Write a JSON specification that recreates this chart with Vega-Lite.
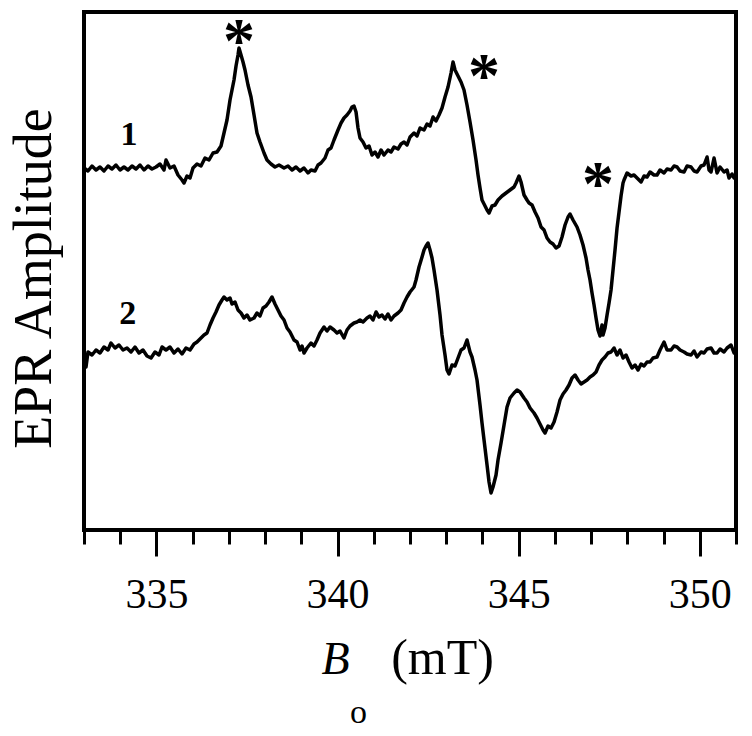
{
"$schema": "https://vega.github.io/schema/vega-lite/v6.json",
"width": 652, "height": 518,
"autosize": {"type": "none"},
"padding": {"left": 84, "top": 12, "right": 16, "bottom": 206},
"background": "white",
"config": {"view": {"stroke": "black", "strokeWidth": 4}, "font": "Liberation Serif"},
"datasets": {
"traces": [
{"trace":"1","B":333.000,"amp":3.62},{"trace":"1","B":333.110,"amp":3.59},{"trace":"1","B":333.221,"amp":3.64},{"trace":"1","B":333.331,"amp":3.60},{"trace":"1","B":333.442,"amp":3.63},{"trace":"1","B":333.552,"amp":3.59},{"trace":"1","B":333.663,"amp":3.64},{"trace":"1","B":333.773,"amp":3.61},{"trace":"1","B":333.883,"amp":3.65},{"trace":"1","B":333.994,"amp":3.60},{"trace":"1","B":334.104,"amp":3.63},{"trace":"1","B":334.215,"amp":3.60},{"trace":"1","B":334.325,"amp":3.64},{"trace":"1","B":334.436,"amp":3.61},{"trace":"1","B":334.546,"amp":3.65},{"trace":"1","B":334.657,"amp":3.60},{"trace":"1","B":334.767,"amp":3.64},{"trace":"1","B":334.877,"amp":3.61},{"trace":"1","B":334.988,"amp":3.63},{"trace":"1","B":335.098,"amp":3.66},{"trace":"1","B":335.209,"amp":3.60},{"trace":"1","B":335.264,"amp":3.70},{"trace":"1","B":335.374,"amp":3.62},{"trace":"1","B":335.485,"amp":3.64},{"trace":"1","B":335.595,"amp":3.55},{"trace":"1","B":335.706,"amp":3.50},{"trace":"1","B":335.761,"amp":3.47},{"trace":"1","B":335.844,"amp":3.54},{"trace":"1","B":335.927,"amp":3.52},{"trace":"1","B":336.009,"amp":3.62},{"trace":"1","B":336.120,"amp":3.66},{"trace":"1","B":336.230,"amp":3.64},{"trace":"1","B":336.341,"amp":3.72},{"trace":"1","B":336.451,"amp":3.70},{"trace":"1","B":336.562,"amp":3.77},{"trace":"1","B":336.672,"amp":3.78},{"trace":"1","B":336.782,"amp":3.84},{"trace":"1","B":336.865,"amp":3.97},{"trace":"1","B":336.948,"amp":4.10},{"trace":"1","B":337.031,"amp":4.30},{"trace":"1","B":337.086,"amp":4.40},{"trace":"1","B":337.141,"amp":4.50},{"trace":"1","B":337.197,"amp":4.64},{"trace":"1","B":337.252,"amp":4.75},{"trace":"1","B":337.279,"amp":4.82},{"trace":"1","B":337.335,"amp":4.75},{"trace":"1","B":337.390,"amp":4.68},{"trace":"1","B":337.445,"amp":4.60},{"trace":"1","B":337.528,"amp":4.45},{"trace":"1","B":337.611,"amp":4.33},{"trace":"1","B":337.694,"amp":4.15},{"trace":"1","B":337.776,"amp":3.97},{"trace":"1","B":337.859,"amp":3.88},{"trace":"1","B":337.970,"amp":3.77},{"trace":"1","B":338.052,"amp":3.70},{"trace":"1","B":338.163,"amp":3.66},{"trace":"1","B":338.273,"amp":3.63},{"trace":"1","B":338.384,"amp":3.65},{"trace":"1","B":338.522,"amp":3.62},{"trace":"1","B":338.632,"amp":3.64},{"trace":"1","B":338.743,"amp":3.60},{"trace":"1","B":338.853,"amp":3.63},{"trace":"1","B":338.964,"amp":3.59},{"trace":"1","B":339.074,"amp":3.62},{"trace":"1","B":339.184,"amp":3.57},{"trace":"1","B":339.267,"amp":3.60},{"trace":"1","B":339.378,"amp":3.59},{"trace":"1","B":339.461,"amp":3.65},{"trace":"1","B":339.543,"amp":3.67},{"trace":"1","B":339.654,"amp":3.72},{"trace":"1","B":339.737,"amp":3.80},{"trace":"1","B":339.819,"amp":3.82},{"trace":"1","B":339.902,"amp":3.90},{"trace":"1","B":340.013,"amp":4.00},{"trace":"1","B":340.096,"amp":4.07},{"trace":"1","B":340.178,"amp":4.12},{"trace":"1","B":340.261,"amp":4.15},{"trace":"1","B":340.344,"amp":4.19},{"trace":"1","B":340.399,"amp":4.23},{"trace":"1","B":340.454,"amp":4.24},{"trace":"1","B":340.510,"amp":4.18},{"trace":"1","B":340.565,"amp":4.02},{"trace":"1","B":340.620,"amp":3.92},{"trace":"1","B":340.703,"amp":3.88},{"trace":"1","B":340.786,"amp":3.82},{"trace":"1","B":340.869,"amp":3.84},{"trace":"1","B":340.951,"amp":3.75},{"trace":"1","B":341.034,"amp":3.78},{"trace":"1","B":341.117,"amp":3.73},{"trace":"1","B":341.200,"amp":3.80},{"trace":"1","B":341.283,"amp":3.75},{"trace":"1","B":341.393,"amp":3.80},{"trace":"1","B":341.476,"amp":3.78},{"trace":"1","B":341.559,"amp":3.83},{"trace":"1","B":341.669,"amp":3.81},{"trace":"1","B":341.752,"amp":3.86},{"trace":"1","B":341.835,"amp":3.88},{"trace":"1","B":341.918,"amp":3.85},{"trace":"1","B":342.001,"amp":3.93},{"trace":"1","B":342.111,"amp":3.97},{"trace":"1","B":342.194,"amp":3.94},{"trace":"1","B":342.277,"amp":4.02},{"trace":"1","B":342.387,"amp":4.00},{"trace":"1","B":342.470,"amp":4.06},{"trace":"1","B":342.553,"amp":4.04},{"trace":"1","B":342.636,"amp":4.13},{"trace":"1","B":342.718,"amp":4.09},{"trace":"1","B":342.801,"amp":4.15},{"trace":"1","B":342.884,"amp":4.22},{"trace":"1","B":342.967,"amp":4.33},{"trace":"1","B":343.050,"amp":4.43},{"trace":"1","B":343.133,"amp":4.57},{"trace":"1","B":343.188,"amp":4.68},{"trace":"1","B":343.243,"amp":4.60},{"trace":"1","B":343.326,"amp":4.54},{"trace":"1","B":343.409,"amp":4.48},{"trace":"1","B":343.491,"amp":4.40},{"trace":"1","B":343.574,"amp":4.25},{"trace":"1","B":343.657,"amp":4.08},{"trace":"1","B":343.740,"amp":3.90},{"trace":"1","B":343.823,"amp":3.70},{"trace":"1","B":343.878,"amp":3.55},{"trace":"1","B":343.933,"amp":3.42},{"trace":"1","B":343.988,"amp":3.30},{"trace":"1","B":344.044,"amp":3.26},{"trace":"1","B":344.127,"amp":3.20},{"trace":"1","B":344.182,"amp":3.17},{"trace":"1","B":344.265,"amp":3.24},{"trace":"1","B":344.347,"amp":3.25},{"trace":"1","B":344.430,"amp":3.30},{"trace":"1","B":344.541,"amp":3.34},{"trace":"1","B":344.651,"amp":3.37},{"trace":"1","B":344.761,"amp":3.40},{"trace":"1","B":344.872,"amp":3.43},{"trace":"1","B":344.927,"amp":3.47},{"trace":"1","B":345.010,"amp":3.54},{"trace":"1","B":345.065,"amp":3.48},{"trace":"1","B":345.148,"amp":3.35},{"trace":"1","B":345.231,"amp":3.30},{"trace":"1","B":345.286,"amp":3.27},{"trace":"1","B":345.369,"amp":3.25},{"trace":"1","B":345.452,"amp":3.18},{"trace":"1","B":345.535,"amp":3.12},{"trace":"1","B":345.618,"amp":3.03},{"trace":"1","B":345.701,"amp":3.00},{"trace":"1","B":345.783,"amp":2.92},{"trace":"1","B":345.866,"amp":2.88},{"trace":"1","B":345.949,"amp":2.86},{"trace":"1","B":346.032,"amp":2.82},{"trace":"1","B":346.115,"amp":2.84},{"trace":"1","B":346.197,"amp":2.93},{"trace":"1","B":346.280,"amp":3.05},{"trace":"1","B":346.363,"amp":3.13},{"trace":"1","B":346.418,"amp":3.16},{"trace":"1","B":346.501,"amp":3.10},{"trace":"1","B":346.611,"amp":3.03},{"trace":"1","B":346.694,"amp":2.95},{"trace":"1","B":346.777,"amp":2.85},{"trace":"1","B":346.860,"amp":2.72},{"trace":"1","B":346.915,"amp":2.60},{"trace":"1","B":346.970,"amp":2.50},{"trace":"1","B":347.025,"amp":2.37},{"trace":"1","B":347.081,"amp":2.25},{"trace":"1","B":347.136,"amp":2.12},{"trace":"1","B":347.191,"amp":2.00},{"trace":"1","B":347.246,"amp":1.94},{"trace":"1","B":347.301,"amp":2.05},{"trace":"1","B":347.329,"amp":1.95},{"trace":"1","B":347.384,"amp":2.02},{"trace":"1","B":347.440,"amp":2.15},{"trace":"1","B":347.495,"amp":2.27},{"trace":"1","B":347.550,"amp":2.40},{"trace":"1","B":347.605,"amp":2.60},{"trace":"1","B":347.660,"amp":2.80},{"trace":"1","B":347.716,"amp":3.02},{"trace":"1","B":347.771,"amp":3.18},{"trace":"1","B":347.826,"amp":3.34},{"trace":"1","B":347.881,"amp":3.47},{"trace":"1","B":347.909,"amp":3.50},{"trace":"1","B":347.992,"amp":3.57},{"trace":"1","B":348.102,"amp":3.54},{"trace":"1","B":348.185,"amp":3.55},{"trace":"1","B":348.268,"amp":3.52},{"trace":"1","B":348.379,"amp":3.48},{"trace":"1","B":348.461,"amp":3.54},{"trace":"1","B":348.544,"amp":3.53},{"trace":"1","B":348.627,"amp":3.58},{"trace":"1","B":348.737,"amp":3.55},{"trace":"1","B":348.820,"amp":3.55},{"trace":"1","B":348.903,"amp":3.60},{"trace":"1","B":349.014,"amp":3.57},{"trace":"1","B":349.096,"amp":3.61},{"trace":"1","B":349.207,"amp":3.60},{"trace":"1","B":349.290,"amp":3.64},{"trace":"1","B":349.373,"amp":3.63},{"trace":"1","B":349.455,"amp":3.59},{"trace":"1","B":349.566,"amp":3.58},{"trace":"1","B":349.649,"amp":3.64},{"trace":"1","B":349.759,"amp":3.63},{"trace":"1","B":349.842,"amp":3.59},{"trace":"1","B":349.925,"amp":3.58},{"trace":"1","B":350.035,"amp":3.64},{"trace":"1","B":350.118,"amp":3.65},{"trace":"1","B":350.201,"amp":3.73},{"trace":"1","B":350.256,"amp":3.60},{"trace":"1","B":350.311,"amp":3.58},{"trace":"1","B":350.394,"amp":3.72},{"trace":"1","B":350.477,"amp":3.57},{"trace":"1","B":350.560,"amp":3.63},{"trace":"1","B":350.670,"amp":3.58},{"trace":"1","B":350.753,"amp":3.60},{"trace":"1","B":350.808,"amp":3.52},{"trace":"1","B":350.891,"amp":3.56},{"trace":"1","B":350.946,"amp":3.52},{"trace":"1","B":351.000,"amp":3.54},
{"trace":"2","B":333.000,"amp":1.73},{"trace":"2","B":333.055,"amp":1.63},{"trace":"2","B":333.110,"amp":1.78},{"trace":"2","B":333.221,"amp":1.75},{"trace":"2","B":333.331,"amp":1.80},{"trace":"2","B":333.442,"amp":1.77},{"trace":"2","B":333.552,"amp":1.83},{"trace":"2","B":333.663,"amp":1.80},{"trace":"2","B":333.745,"amp":1.87},{"trace":"2","B":333.856,"amp":1.82},{"trace":"2","B":333.966,"amp":1.85},{"trace":"2","B":334.077,"amp":1.80},{"trace":"2","B":334.187,"amp":1.82},{"trace":"2","B":334.298,"amp":1.78},{"trace":"2","B":334.408,"amp":1.83},{"trace":"2","B":334.518,"amp":1.77},{"trace":"2","B":334.629,"amp":1.80},{"trace":"2","B":334.739,"amp":1.74},{"trace":"2","B":334.850,"amp":1.72},{"trace":"2","B":334.960,"amp":1.78},{"trace":"2","B":335.071,"amp":1.75},{"trace":"2","B":335.154,"amp":1.83},{"trace":"2","B":335.264,"amp":1.80},{"trace":"2","B":335.374,"amp":1.83},{"trace":"2","B":335.485,"amp":1.77},{"trace":"2","B":335.595,"amp":1.81},{"trace":"2","B":335.706,"amp":1.76},{"trace":"2","B":335.816,"amp":1.82},{"trace":"2","B":335.927,"amp":1.80},{"trace":"2","B":336.037,"amp":1.86},{"trace":"2","B":336.120,"amp":1.88},{"trace":"2","B":336.230,"amp":1.92},{"trace":"2","B":336.313,"amp":1.95},{"trace":"2","B":336.396,"amp":1.97},{"trace":"2","B":336.479,"amp":2.05},{"trace":"2","B":336.562,"amp":2.12},{"trace":"2","B":336.644,"amp":2.18},{"trace":"2","B":336.727,"amp":2.25},{"trace":"2","B":336.810,"amp":2.30},{"trace":"2","B":336.865,"amp":2.33},{"trace":"2","B":336.948,"amp":2.30},{"trace":"2","B":337.031,"amp":2.32},{"trace":"2","B":337.086,"amp":2.26},{"trace":"2","B":337.169,"amp":2.28},{"trace":"2","B":337.252,"amp":2.20},{"trace":"2","B":337.335,"amp":2.17},{"trace":"2","B":337.417,"amp":2.12},{"trace":"2","B":337.500,"amp":2.15},{"trace":"2","B":337.583,"amp":2.10},{"trace":"2","B":337.694,"amp":2.12},{"trace":"2","B":337.776,"amp":2.17},{"trace":"2","B":337.859,"amp":2.14},{"trace":"2","B":337.942,"amp":2.22},{"trace":"2","B":338.025,"amp":2.24},{"trace":"2","B":338.108,"amp":2.28},{"trace":"2","B":338.190,"amp":2.33},{"trace":"2","B":338.273,"amp":2.26},{"trace":"2","B":338.356,"amp":2.20},{"trace":"2","B":338.439,"amp":2.14},{"trace":"2","B":338.522,"amp":2.10},{"trace":"2","B":338.605,"amp":2.02},{"trace":"2","B":338.687,"amp":1.98},{"trace":"2","B":338.798,"amp":1.90},{"trace":"2","B":338.881,"amp":1.88},{"trace":"2","B":338.964,"amp":1.80},{"trace":"2","B":339.019,"amp":1.84},{"trace":"2","B":339.074,"amp":1.77},{"trace":"2","B":339.157,"amp":1.82},{"trace":"2","B":339.267,"amp":1.87},{"trace":"2","B":339.350,"amp":1.84},{"trace":"2","B":339.433,"amp":1.90},{"trace":"2","B":339.516,"amp":1.97},{"trace":"2","B":339.626,"amp":2.03},{"trace":"2","B":339.709,"amp":1.99},{"trace":"2","B":339.792,"amp":2.03},{"trace":"2","B":339.902,"amp":2.00},{"trace":"2","B":339.985,"amp":1.97},{"trace":"2","B":340.068,"amp":1.99},{"trace":"2","B":340.178,"amp":1.92},{"trace":"2","B":340.261,"amp":2.00},{"trace":"2","B":340.344,"amp":2.04},{"trace":"2","B":340.454,"amp":2.07},{"trace":"2","B":340.537,"amp":2.08},{"trace":"2","B":340.620,"amp":2.10},{"trace":"2","B":340.703,"amp":2.08},{"trace":"2","B":340.813,"amp":2.12},{"trace":"2","B":340.896,"amp":2.14},{"trace":"2","B":340.979,"amp":2.10},{"trace":"2","B":341.062,"amp":2.18},{"trace":"2","B":341.145,"amp":2.13},{"trace":"2","B":341.227,"amp":2.15},{"trace":"2","B":341.310,"amp":2.11},{"trace":"2","B":341.393,"amp":2.16},{"trace":"2","B":341.476,"amp":2.10},{"trace":"2","B":341.559,"amp":2.14},{"trace":"2","B":341.669,"amp":2.17},{"trace":"2","B":341.752,"amp":2.20},{"trace":"2","B":341.835,"amp":2.27},{"trace":"2","B":341.918,"amp":2.33},{"trace":"2","B":342.001,"amp":2.38},{"trace":"2","B":342.111,"amp":2.43},{"trace":"2","B":342.166,"amp":2.50},{"trace":"2","B":342.249,"amp":2.63},{"trace":"2","B":342.332,"amp":2.73},{"trace":"2","B":342.387,"amp":2.80},{"trace":"2","B":342.442,"amp":2.84},{"trace":"2","B":342.497,"amp":2.87},{"trace":"2","B":342.553,"amp":2.80},{"trace":"2","B":342.608,"amp":2.72},{"trace":"2","B":342.663,"amp":2.60},{"trace":"2","B":342.746,"amp":2.40},{"trace":"2","B":342.829,"amp":2.15},{"trace":"2","B":342.884,"amp":1.95},{"trace":"2","B":342.967,"amp":1.75},{"trace":"2","B":343.022,"amp":1.60},{"trace":"2","B":343.077,"amp":1.56},{"trace":"2","B":343.160,"amp":1.65},{"trace":"2","B":343.243,"amp":1.64},{"trace":"2","B":343.326,"amp":1.72},{"trace":"2","B":343.409,"amp":1.80},{"trace":"2","B":343.491,"amp":1.82},{"trace":"2","B":343.574,"amp":1.90},{"trace":"2","B":343.657,"amp":1.78},{"trace":"2","B":343.712,"amp":1.73},{"trace":"2","B":343.795,"amp":1.60},{"trace":"2","B":343.850,"amp":1.50},{"trace":"2","B":343.933,"amp":1.25},{"trace":"2","B":343.988,"amp":1.07},{"trace":"2","B":344.044,"amp":0.90},{"trace":"2","B":344.127,"amp":0.65},{"trace":"2","B":344.182,"amp":0.48},{"trace":"2","B":344.237,"amp":0.37},{"trace":"2","B":344.292,"amp":0.43},{"trace":"2","B":344.375,"amp":0.55},{"trace":"2","B":344.430,"amp":0.70},{"trace":"2","B":344.513,"amp":0.87},{"trace":"2","B":344.596,"amp":1.05},{"trace":"2","B":344.679,"amp":1.23},{"trace":"2","B":344.761,"amp":1.32},{"trace":"2","B":344.872,"amp":1.37},{"trace":"2","B":344.955,"amp":1.40},{"trace":"2","B":345.038,"amp":1.38},{"trace":"2","B":345.148,"amp":1.32},{"trace":"2","B":345.231,"amp":1.28},{"trace":"2","B":345.314,"amp":1.22},{"trace":"2","B":345.424,"amp":1.17},{"trace":"2","B":345.507,"amp":1.12},{"trace":"2","B":345.590,"amp":1.06},{"trace":"2","B":345.673,"amp":1.00},{"trace":"2","B":345.728,"amp":0.97},{"trace":"2","B":345.811,"amp":1.04},{"trace":"2","B":345.894,"amp":1.02},{"trace":"2","B":345.977,"amp":1.08},{"trace":"2","B":346.059,"amp":1.18},{"trace":"2","B":346.142,"amp":1.30},{"trace":"2","B":346.225,"amp":1.36},{"trace":"2","B":346.308,"amp":1.40},{"trace":"2","B":346.391,"amp":1.45},{"trace":"2","B":346.473,"amp":1.52},{"trace":"2","B":346.556,"amp":1.55},{"trace":"2","B":346.639,"amp":1.50},{"trace":"2","B":346.722,"amp":1.46},{"trace":"2","B":346.805,"amp":1.48},{"trace":"2","B":346.888,"amp":1.50},{"trace":"2","B":346.970,"amp":1.53},{"trace":"2","B":347.053,"amp":1.55},{"trace":"2","B":347.136,"amp":1.58},{"trace":"2","B":347.219,"amp":1.65},{"trace":"2","B":347.301,"amp":1.70},{"trace":"2","B":347.384,"amp":1.73},{"trace":"2","B":347.467,"amp":1.77},{"trace":"2","B":347.550,"amp":1.78},{"trace":"2","B":347.633,"amp":1.82},{"trace":"2","B":347.716,"amp":1.75},{"trace":"2","B":347.799,"amp":1.80},{"trace":"2","B":347.881,"amp":1.72},{"trace":"2","B":347.964,"amp":1.75},{"trace":"2","B":348.047,"amp":1.68},{"trace":"2","B":348.130,"amp":1.62},{"trace":"2","B":348.213,"amp":1.65},{"trace":"2","B":348.296,"amp":1.60},{"trace":"2","B":348.379,"amp":1.66},{"trace":"2","B":348.461,"amp":1.64},{"trace":"2","B":348.544,"amp":1.68},{"trace":"2","B":348.627,"amp":1.68},{"trace":"2","B":348.710,"amp":1.72},{"trace":"2","B":348.820,"amp":1.73},{"trace":"2","B":348.903,"amp":1.80},{"trace":"2","B":349.014,"amp":1.88},{"trace":"2","B":349.096,"amp":1.80},{"trace":"2","B":349.207,"amp":1.80},{"trace":"2","B":349.290,"amp":1.84},{"trace":"2","B":349.373,"amp":1.83},{"trace":"2","B":349.455,"amp":1.80},{"trace":"2","B":349.566,"amp":1.78},{"trace":"2","B":349.649,"amp":1.76},{"trace":"2","B":349.759,"amp":1.75},{"trace":"2","B":349.842,"amp":1.79},{"trace":"2","B":349.925,"amp":1.73},{"trace":"2","B":350.035,"amp":1.78},{"trace":"2","B":350.118,"amp":1.77},{"trace":"2","B":350.201,"amp":1.81},{"trace":"2","B":350.311,"amp":1.82},{"trace":"2","B":350.394,"amp":1.77},{"trace":"2","B":350.477,"amp":1.77},{"trace":"2","B":350.560,"amp":1.81},{"trace":"2","B":350.670,"amp":1.78},{"trace":"2","B":350.753,"amp":1.82},{"trace":"2","B":350.863,"amp":1.85},{"trace":"2","B":350.946,"amp":1.77},{"trace":"2","B":351.000,"amp":1.80}
],
"labels": [{"B":334.24,"amp":3.95,"label":"1"},{"B":334.21,"amp":2.16,"label":"2"}],
"stars": [{"B":337.28,"amp":4.98,"label":"*"},{"B":344.04,"amp":4.63,"label":"*"},{"B":347.19,"amp":3.55,"label":"*"}]
},
"layer": [
{
"data": {"name": "traces"},
"mark": {"type": "line", "color": "black", "strokeWidth": 3.5, "strokeJoin": "round"},
"encoding": {
"x": {"field": "B", "type": "quantitative",
"scale": {"domain": [333, 351], "nice": false, "zero": false},
"axis": {"orient": "bottom", "values": [335, 340, 345, 350], "format": "d", "grid": false, "domain": false,
"ticks": true, "tickSize": 26, "tickWidth": 3, "tickColor": "black",
"labelFont": "Liberation Serif", "labelFontSize": 42, "labelColor": "black", "labelPadding": 18, "labelBaseline": "top",
"title": "(mT)", "titleFont": "Liberation Serif", "titleFontSize": 50, "titleFontWeight": "normal", "titleColor": "black",
"titleX": 358, "titleY": 143, "titleAlign": "center", "titleBaseline": "alphabetic"}},
"y": {"field": "amp", "type": "quantitative",
"scale": {"domain": [0, 5.18], "nice": false, "zero": false},
"axis": {"orient": "left", "labels": false, "ticks": false, "domain": false, "grid": false,
"title": "EPR Amplitude", "titleFont": "Liberation Serif", "titleFontSize": 54, "titleFontWeight": "normal", "titleColor": "black",
"titleAngle": -90, "titleX": -34, "titleY": 266, "titleAlign": "center", "titleBaseline": "alphabetic"}},
"detail": {"field": "trace"}
}
},
{
"data": {"name": "labels"},
"mark": {"type": "text", "font": "Liberation Serif", "fontSize": 34, "fontWeight": "bold", "color": "black", "align": "center", "baseline": "middle"},
"encoding": {
"x": {"field": "B", "type": "quantitative",
"axis": {"orient": "bottom", "values": [333,334,335,336,337,338,339,340,341,342,343,344,345,346,347,348,349,350,351], "grid": false, "domain": false,
"ticks": true, "tickSize": 14, "tickWidth": 3, "tickColor": "black", "labels": false,
"title": "B", "titleFont": "Liberation Serif", "titleFontSize": 46, "titleFontStyle": "italic", "titleFontWeight": "normal", "titleColor": "black",
"titleX": 251, "titleY": 143, "titleAlign": "center", "titleBaseline": "alphabetic"}},
"y": {"field": "amp", "type": "quantitative", "axis": null},
"text": {"field": "label"}
}
},
{
"data": {"name": "stars"},
"mark": {"type": "text", "font": "Liberation Serif", "fontSize": 64, "fontWeight": "bold", "color": "black", "align": "center", "baseline": "alphabetic", "dy": 30},
"encoding": {
"x": {"field": "B", "type": "quantitative",
"axis": {"orient": "bottom", "ticks": false, "labels": false, "domain": false, "grid": false,
"title": "o", "titleFont": "Liberation Serif", "titleFontSize": 34, "titleFontWeight": "normal", "titleColor": "black",
"titleX": 274, "titleY": 192, "titleAlign": "center", "titleBaseline": "alphabetic"}},
"y": {"field": "amp", "type": "quantitative", "axis": null},
"text": {"field": "label"}
}
}
],
"resolve": {"axis": {"x": "independent", "y": "independent"}}
}
